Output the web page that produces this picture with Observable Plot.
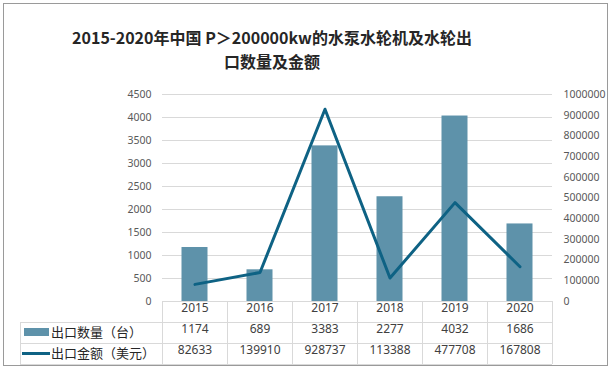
<!DOCTYPE html>
<html>
<head>
<meta charset="utf-8">
<script src="https://cdn.jsdelivr.net/npm/d3@7"></script>
<script src="https://cdn.jsdelivr.net/npm/@observablehq/plot@0.6"></script>
<style>
  html, body { margin: 0; padding: 0; background: #fff; }
  #wrap { position: relative; width: 612px; height: 370px; overflow: hidden; font-family: "Noto Sans", "Noto Sans CJK SC", sans-serif; }
  #border { position: absolute; left: 3px; top: 3px; width: 605px; height: 363px; border: 1px solid #9a9a9a; box-sizing: border-box; pointer-events: none; }
  #title { position: absolute; left: 0; top: 25px; width: 544px; text-align: center; font-family: "Noto Sans CJK SC", sans-serif; font-weight: bold; font-size: 16px; line-height: 24px; color: #262626; white-space: nowrap; }
  .leg { position: absolute; font-family: "Noto Sans CJK SC", sans-serif; font-size: 13px; color: #262626; white-space: nowrap; line-height: 16px; }
  .sw { position: absolute; }
</style>
</head>
<body>
<div id="wrap">
  <div id="chart"></div>
  <div id="title"></div>
  <div id="legend"></div>
  <div id="border"></div>
</div>
<script>
const titleLines = ["2015-2020年中国 P＞200000kw的水泵水轮机及水轮出", "口数量及金额"];
const years = ["2015", "2016", "2017", "2018", "2019", "2020"];
const counts = [1174, 689, 3383, 2277, 4032, 1686];
const amounts = [82633, 139910, 928737, 113388, 477708, 167808];
const seriesNames = ["出口数量（台）", "出口金额（美元）"];
const leftTicks = [0, 500, 1000, 1500, 2000, 2500, 3000, 3500, 4000, 4500];
const rightTicks = [0, 100000, 200000, 300000, 400000, 500000, 600000, 700000, 800000, 900000, 1000000];

const barColor = "#5e92aa";
const lineColor = "#0e6284";
const gridColor = "#d9d9d9";
const textColor = "#404040";
const axisColor = "#595959";

const leftMax = 4500, rightMax = 1000000;
const toLeft = v => v * leftMax / rightMax;

const rows = years.map((y, i) => ({year: y, count: counts[i], amount: amounts[i]}));

const W = 612, H = 370, mL = 162, mR = 60, mT = 94, mB = 69;
const bw = (W - mL - mR) / years.length;
const rowH = 21;
const leftCol = 142;

const plot = Plot.plot({
  width: W, height: H,
  marginLeft: mL, marginRight: mR, marginTop: mT, marginBottom: mB,
  style: {fontFamily: "'Noto Sans', 'Noto Sans CJK SC', sans-serif", fontSize: "11px", background: "transparent"},
  x: {type: "band", domain: years, padding: 0, axis: null},
  y: {domain: [0, leftMax], axis: null},
  marks: [
    Plot.gridY(leftTicks.filter(d => d > 0), {stroke: gridColor, strokeOpacity: 1}),
    Plot.barY(rows, {x: "year", y: "count", fill: barColor, insetLeft: (bw - 26) / 2, insetRight: (bw - 26) / 2}),
    Plot.line(rows, {x: "year", y: d => toLeft(d.amount), stroke: lineColor, strokeWidth: 3, curve: "linear"}),
    Plot.axisY({ticks: leftTicks, tickSize: 0, tickPadding: 11, fill: axisColor, fontSize: 10.5, label: null,
      tickFormat: d => String(d)}),
    Plot.axisY({anchor: "right", ticks: rightTicks.map(toLeft), tickSize: 0, tickPadding: 11, fill: axisColor, fontSize: 10.5, label: null,
      tickFormat: d => String(Math.round(d * rightMax / leftMax))}),
    // table grid
    Plot.ruleY([0], {stroke: gridColor}),
    Plot.ruleY([0], {stroke: gridColor, dy: rowH, insetLeft: -leftCol}),
    Plot.ruleY([0], {stroke: gridColor, dy: rowH * 2, insetLeft: -leftCol}),
    Plot.ruleY([0], {stroke: gridColor, dy: rowH * 3, insetLeft: -leftCol}),
    Plot.ruleX(years, {x: d => d, dx: -bw / 2, stroke: gridColor, insetTop: H - mT - mB, insetBottom: -rowH * 3}),
    Plot.ruleX([years[years.length - 1]], {x: d => d, dx: bw / 2, stroke: gridColor, insetTop: H - mT - mB, insetBottom: -rowH * 3}),
    Plot.ruleX([years[0]], {x: d => d, dx: -bw / 2 - leftCol, stroke: gridColor, insetTop: H - mT - mB + rowH, insetBottom: -rowH * 3}),
    // table text
    Plot.text(rows, {x: "year", text: "year", frameAnchor: "bottom", dy: rowH * 0.5, fill: textColor, fontSize: 12}),
    Plot.text(rows, {x: "year", text: d => String(d.count), frameAnchor: "bottom", dy: rowH * 1.5, fill: textColor, fontSize: 12}),
    Plot.text(rows, {x: "year", text: d => String(d.amount), frameAnchor: "bottom", dy: rowH * 2.5, fill: textColor, fontSize: 12})
  ]
});
document.getElementById("chart").appendChild(plot);

document.getElementById("title").innerHTML = titleLines.join("<br>");

const leg = document.getElementById("legend");
const baseY = H - mB;
leg.innerHTML =
  `<div class="sw" style="left:24px;top:${baseY + 27}px;width:25px;height:8px;background:${barColor}"></div>` +
  `<div class="leg" style="left:51px;top:${baseY + 23}px">${seriesNames[0]}</div>` +
  `<div class="sw" style="left:22px;top:${baseY + 51}px;width:28px;height:3px;background:${lineColor}"></div>` +
  `<div class="leg" style="left:51px;top:${baseY + 44}px">${seriesNames[1]}</div>`;
</script>
</body>
</html>
